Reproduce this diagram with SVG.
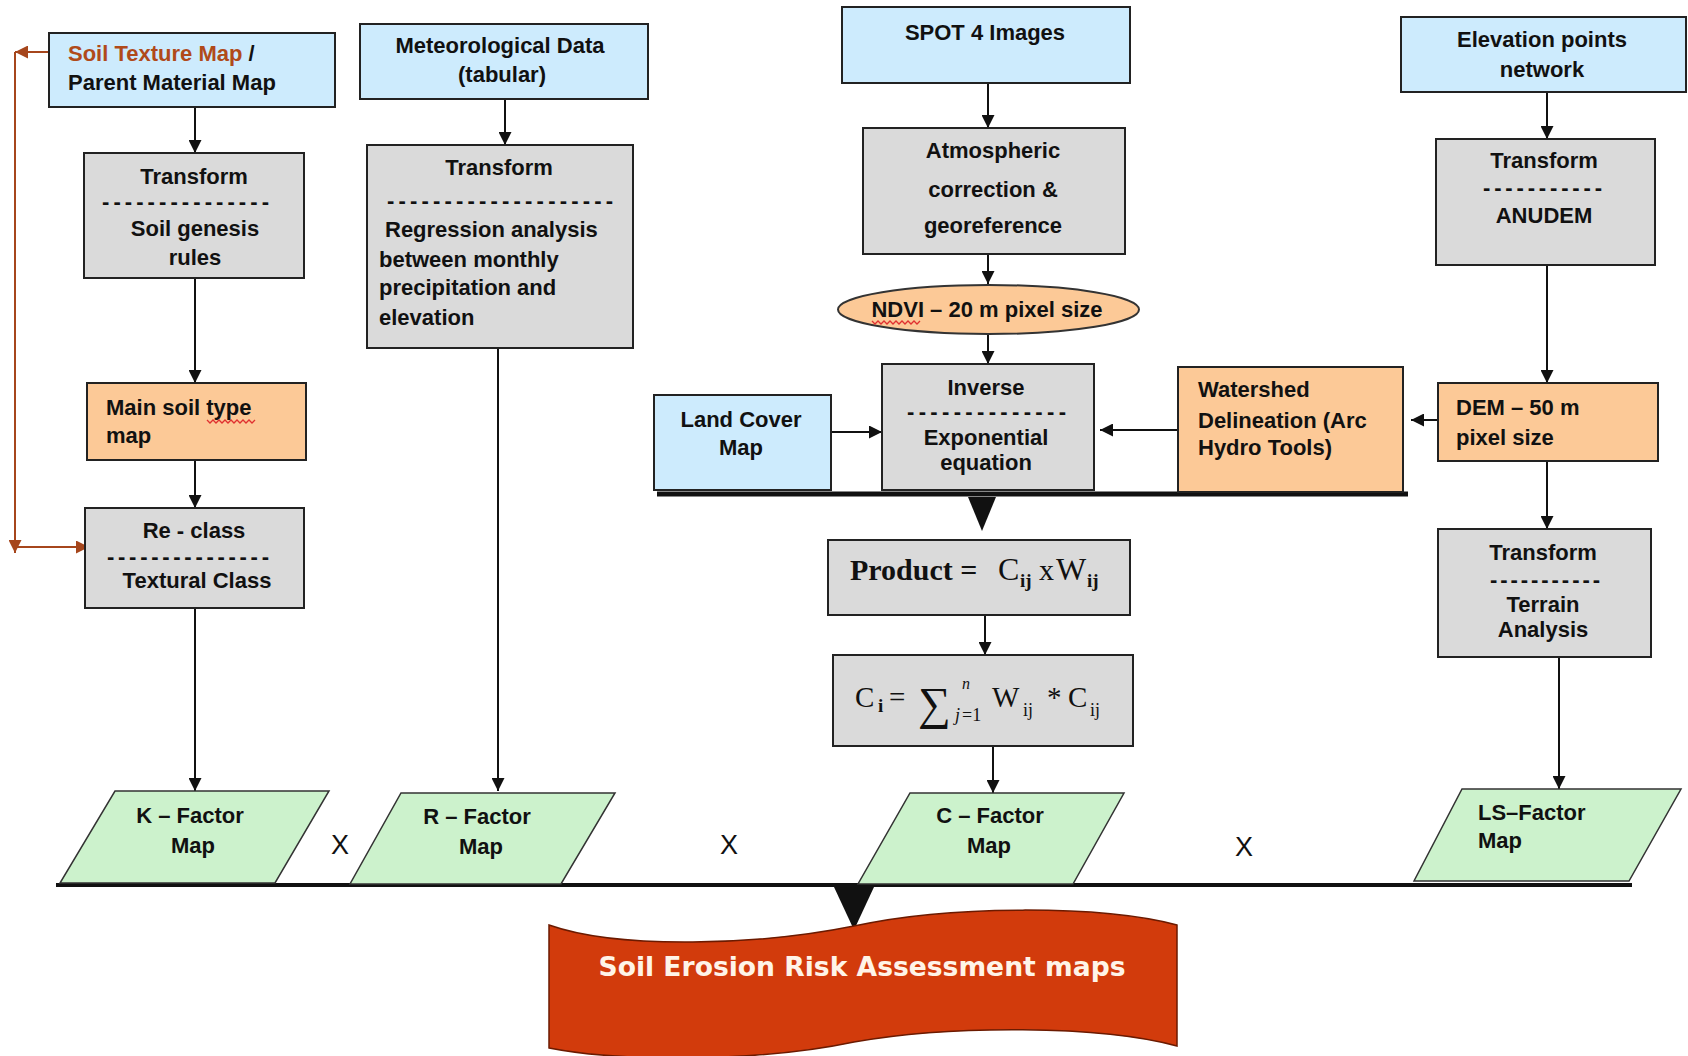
<svg xmlns="http://www.w3.org/2000/svg" width="1688" height="1056" viewBox="0 0 1688 1056">
<defs>
<style>
.t{font-family:"Liberation Sans",Arial,sans-serif;font-weight:bold;font-size:22px;fill:#111}
.c{text-anchor:middle}
.blue{fill:#cdebfd;stroke:#222;stroke-width:2}
.gray{fill:#dadada;stroke:#222;stroke-width:2}
.peach{fill:#fcc997;stroke:#222;stroke-width:2}
.green{fill:#ccf2cc;stroke:#333;stroke-width:1.5}
.ln{fill:none;stroke:#111;stroke-width:2}
.br{fill:none;stroke:#a6461c;stroke-width:2}
.x{font-family:"Liberation Sans",Arial,sans-serif;font-size:27px;fill:#111;text-anchor:middle}
.m{font-family:"Liberation Serif","Times New Roman",serif;font-size:29px;fill:#111}
.sq{fill:none;stroke:#e03030;stroke-width:1.3}
</style>
<marker id="a" viewBox="0 0 12 12" refX="12" refY="6" markerWidth="13" markerHeight="13" markerUnits="userSpaceOnUse" orient="auto"><path d="M0,0 L12,6 L0,12 z" fill="#111"/></marker>
<marker id="b" viewBox="0 0 12 12" refX="12" refY="6" markerWidth="13" markerHeight="13" markerUnits="userSpaceOnUse" orient="auto"><path d="M0,0 L12,6 L0,12 z" fill="#a6461c"/></marker>
</defs>
<rect width="1688" height="1056" fill="#fff"/>

<g id="connectors">
<path class="ln" d="M195,107 V153" marker-end="url(#a)"/>
<path class="ln" d="M195,278 V383" marker-end="url(#a)"/>
<path class="ln" d="M195,460 V508" marker-end="url(#a)"/>
<path class="ln" d="M195,608 V791" marker-end="url(#a)"/>
<path class="ln" d="M505,99 V145" marker-end="url(#a)"/>
<path class="ln" d="M498,348 V791" marker-end="url(#a)"/>
<path class="ln" d="M988,83 V128" marker-end="url(#a)"/>
<path class="ln" d="M988,254 V284" marker-end="url(#a)"/>
<path class="ln" d="M988,334 V364" marker-end="url(#a)"/>
<path class="ln" d="M831,432 H882" marker-end="url(#a)"/>
<path class="ln" d="M1178,430 H1100" marker-end="url(#a)"/>
<path class="ln" d="M1438,420 H1411" marker-end="url(#a)"/>
<path class="ln" d="M1547,92 V139" marker-end="url(#a)"/>
<path class="ln" d="M1547,265 V383" marker-end="url(#a)"/>
<path class="ln" d="M1547,461 V529" marker-end="url(#a)"/>
<path class="ln" d="M1559,657 V789" marker-end="url(#a)"/>
<path class="ln" d="M985,615 V655" marker-end="url(#a)"/>
<path class="ln" d="M993,746 V793" marker-end="url(#a)"/>
<path class="br" d="M63,52 H15" marker-end="url(#b)"/>
<path class="br" d="M15,52 V553" marker-end="url(#b)"/>
<path class="br" d="M15,547 H89" marker-end="url(#b)"/>
<path d="M657,494 H1408" stroke="#111" stroke-width="5"/>
<path d="M968,497 L996,497 L982,531 z" fill="#111"/>
<path d="M56,885 H1632" stroke="#111" stroke-width="4"/>
<path d="M834,887 L874,887 L854,930 z" fill="#111"/>
</g>

<g id="soil-texture">
<rect class="blue" x="49" y="33" width="286" height="74"/>
<text class="t" x="68" y="61"><tspan fill="#b04a1a">Soil Texture Map</tspan> /</text>
<text class="t" x="68" y="90">Parent Material Map</text>
</g>
<g id="transform-soil">
<rect class="gray" x="84" y="153" width="220" height="125"/>
<text class="t c" x="194" y="184">Transform</text>
<text class="t" x="102" y="209" textLength="167" lengthAdjust="spacing">---------------</text>
<text class="t c" x="195" y="236">Soil genesis</text>
<text class="t c" x="195" y="265">rules</text>
</g>
<g id="main-soil">
<rect class="peach" x="87" y="383" width="219" height="77"/>
<text class="t" x="106" y="415">Main soil type</text>
<text class="t" x="106" y="443">map</text>
<path class="sq" d="M207,420 l3,3 l3,-3 l3,3 l3,-3 l3,3 l3,-3 l3,3 l3,-3 l3,3 l3,-3 l3,3 l3,-3 l3,3 l3,-3 l3,3 l3,-3"/>
</g>
<g id="reclass">
<rect class="gray" x="85" y="508" width="219" height="100"/>
<text class="t c" x="194" y="538">Re - class</text>
<text class="t" x="107" y="564" textLength="162" lengthAdjust="spacing">---------------</text>
<text class="t c" x="197" y="588">Textural Class</text>
</g>
<g id="meteo">
<rect class="blue" x="360" y="24" width="288" height="75"/>
<text class="t c" x="500" y="53">Meteorological Data</text>
<text class="t c" x="502" y="82">(tabular)</text>
</g>
<g id="transform-meteo">
<rect class="gray" x="367" y="145" width="266" height="203"/>
<text class="t c" x="499" y="175">Transform</text>
<text class="t" x="387" y="208" textLength="226" lengthAdjust="spacing">--------------------</text>
<text class="t" x="385" y="237">Regression analysis</text>
<text class="t" x="379" y="267">between monthly</text>
<text class="t" x="379" y="295">precipitation and</text>
<text class="t" x="379" y="325">elevation</text>
</g>
<g id="spot">
<rect class="blue" x="842" y="7" width="288" height="76"/>
<text class="t c" x="985" y="40">SPOT 4 Images</text>
</g>
<g id="atmos">
<rect class="gray" x="863" y="128" width="262" height="126"/>
<text class="t c" x="993" y="158">Atmospheric</text>
<text class="t c" x="993" y="197">correction &amp;</text>
<text class="t c" x="993" y="233">georeference</text>
</g>
<g id="ndvi">
<ellipse cx="988.5" cy="309.5" rx="150.5" ry="24.5" fill="#fcc997" stroke="#333" stroke-width="2"/>
<text class="t c" x="987" y="317">NDVI – 20 m pixel size</text>
<path class="sq" d="M872,321 l3,3 l3,-3 l3,3 l3,-3 l3,3 l3,-3 l3,3 l3,-3 l3,3 l3,-3 l3,3 l3,-3 l3,3 l3,-3 l3,3 l3,-3"/>
</g>
<g id="elevation">
<rect class="blue" x="1401" y="17" width="285" height="75"/>
<text class="t c" x="1542" y="47">Elevation points</text>
<text class="t c" x="1542" y="77">network</text>
</g>
<g id="anudem">
<rect class="gray" x="1436" y="139" width="219" height="126"/>
<text class="t c" x="1544" y="168">Transform</text>
<text class="t" x="1483" y="195" textLength="119" lengthAdjust="spacing">-----------</text>
<text class="t c" x="1544" y="223">ANUDEM</text>
</g>
<g id="landcover">
<rect class="blue" x="654" y="395" width="177" height="95"/>
<text class="t c" x="741" y="427">Land Cover</text>
<text class="t c" x="741" y="455">Map</text>
</g>
<g id="inverse">
<rect class="gray" x="882" y="364" width="212" height="126"/>
<text class="t c" x="986" y="395">Inverse</text>
<text class="t" x="907" y="419" textLength="159" lengthAdjust="spacing">--------------</text>
<text class="t c" x="986" y="445">Exponential</text>
<text class="t c" x="986" y="470">equation</text>
</g>
<g id="watershed">
<rect class="peach" x="1178" y="367" width="225" height="125"/>
<text class="t" x="1198" y="397">Watershed</text>
<text class="t" x="1198" y="428">Delineation (Arc</text>
<text class="t" x="1198" y="455">Hydro Tools)</text>
</g>
<g id="dem">
<rect class="peach" x="1438" y="383" width="220" height="78"/>
<text class="t" x="1456" y="415">DEM – 50  m</text>
<text class="t" x="1456" y="445">pixel size</text>
</g>
<g id="terrain">
<rect class="gray" x="1438" y="529" width="213" height="128"/>
<text class="t c" x="1543" y="560">Transform</text>
<text class="t" x="1490" y="587" textLength="110" lengthAdjust="spacing">-----------</text>
<text class="t c" x="1543" y="612">Terrain</text>
<text class="t c" x="1543" y="637">Analysis</text>
</g>
<g id="product">
<rect class="gray" x="828" y="540" width="302" height="75"/>
<text class="m" y="580"><tspan x="850" font-weight="bold" font-size="30">Product =</tspan><tspan x="998" font-size="32">C</tspan><tspan x="1020" y="587" font-size="19" font-weight="bold">ij</tspan><tspan x="1039" y="580" font-size="30">x</tspan><tspan x="1056" y="580" font-size="32">W</tspan><tspan x="1087" y="587" font-size="19" font-weight="bold">ij</tspan></text>
</g>
<g id="ci">
<rect class="gray" x="833" y="655" width="300" height="91"/>
<text class="m" y="707" font-size="31"><tspan x="855">C</tspan><tspan x="878" y="712" font-size="19" font-weight="bold">i</tspan><tspan x="889" y="707">=</tspan><tspan x="918" y="719" font-size="46">∑</tspan><tspan x="962" y="689" font-size="16" font-style="italic">n</tspan><tspan x="955" y="721" font-size="18" font-style="italic">j</tspan><tspan x="962" y="721" font-size="18">=1</tspan><tspan x="992" y="707">W</tspan><tspan x="1023" y="716" font-size="18">ij</tspan><tspan x="1047" y="707">*</tspan><tspan x="1068" y="707">C</tspan><tspan x="1090" y="716" font-size="18">ij</tspan></text>
</g>
<g id="k-factor">
<polygon class="green" points="115,791 329,791 275,883 60,883"/>
<text class="t c" x="190" y="823">K – Factor</text>
<text class="t c" x="193" y="853">Map</text>
</g>
<g id="r-factor">
<polygon class="green" points="401,793 615,793 561,884 350,884"/>
<text class="t c" x="477" y="824">R – Factor</text>
<text class="t c" x="481" y="854">Map</text>
</g>
<g id="c-factor">
<polygon class="green" points="910,793 1124,793 1073,884 858,884"/>
<text class="t c" x="990" y="823">C – Factor</text>
<text class="t c" x="989" y="853">Map</text>
</g>
<g id="ls-factor">
<polygon class="green" points="1462,789 1681,789 1629,881 1414,881"/>
<text class="t" x="1478" y="820">LS–Factor</text>
<text class="t" x="1478" y="848">Map</text>
</g>
<g id="operators">
<text class="x" x="340" y="854">X</text>
<text class="x" x="729" y="854">X</text>
<text class="x" x="1244" y="856">X</text>
</g>
<g id="banner">
<path d="M549,925 C620,950 760,945 854,926 C950,905 1100,905 1177,925 L1177,1046 C1100,1025 950,1025 854,1042 C760,1062 620,1062 549,1048 Z" fill="#d23b0c" stroke="#6b1a00" stroke-width="1.5"/>
<text x="862" y="976" text-anchor="middle" font-family="'DejaVu Sans','Liberation Sans',sans-serif" font-weight="bold" font-size="26" fill="#fff4e8" textLength="527" lengthAdjust="spacingAndGlyphs">Soil Erosion Risk Assessment maps</text>
</g>
</svg>
